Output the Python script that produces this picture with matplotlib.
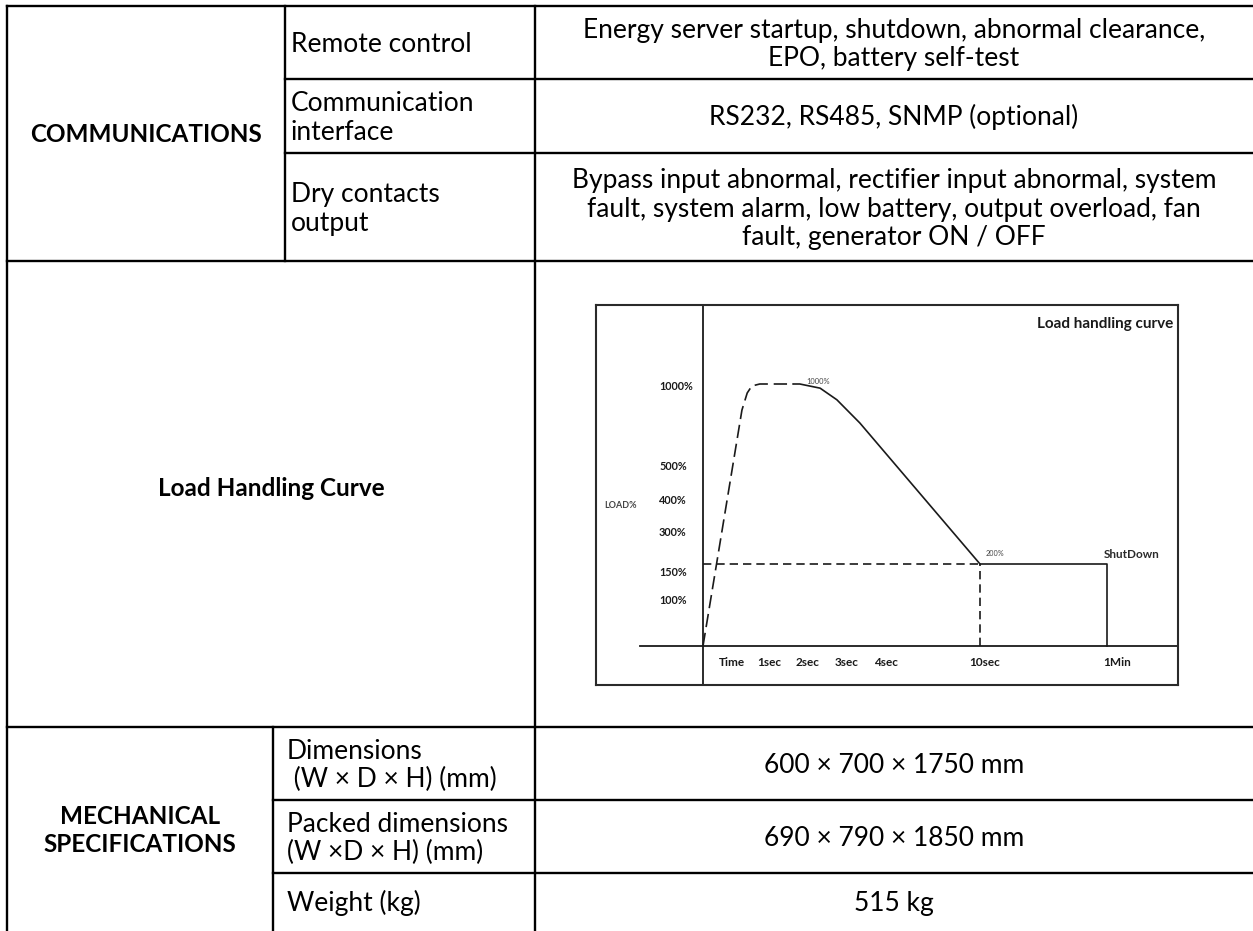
import numpy as np
import matplotlib.pyplot as plt
from matplotlib.transforms import blended_transform_factory

plt.rcParams['font.family'] = ['Lato', 'DejaVu Sans']

# --- table text ---
comm_group = ["COMMUNICATIONS"]
comm_items = [["Remote control"], ["Communication", "interface"], ["Dry contacts", "output"]]
comm_values = [
    ["Energy server startup, shutdown, abnormal clearance,", "EPO, battery self-test"],
    ["RS232, RS485, SNMP (optional)"],
    ["Bypass input abnormal, rectifier input abnormal, system",
     "fault, system alarm, low battery, output overload, fan",
     "fault, generator ON / OFF"],
]
curve_row_label = ["Load Handling Curve"]
mech_group = ["MECHANICAL", "SPECIFICATIONS"]
mech_items = [["Dimensions", " (W \u00d7 D \u00d7 H) (mm)"], ["Packed dimensions", "(W \u00d7D \u00d7 H) (mm)"], ["Weight (kg)"]]
mech_values = [["600 \u00d7 700 \u00d7 1750 mm"], ["690 \u00d7 790 \u00d7 1850 mm"], ["515 kg"]]

# --- load handling curve: time in seconds, load in % ---
rise_t = [0, 0.59, 0.67, 0.74, 0.86, 1.62]
rise_load = [0, 843, 946, 988, 1000, 1000]
fall_t = [1.62, 1.79, 2.31, 2.74, 3.33, 10]
fall_load = [1000, 1000, 975, 905, 765, 200]
hold_t = [10, 60, 60]
hold_load = [200, 200, 0]
overload_level = 200
overload_end = 10
load_ticks = [1000, 500, 400, 300, 150, 100]
time_labels = ["Time", "1sec", "2sec", "3sec", "4sec", "10sec", "1Min"]
time_label_at = [0.44, 1, 2, 3, 4, 10, 60]

# the drawing is not to scale, so both axes use a piecewise scale
time_knots = [0, 1, 2, 3, 4, 10, 60]
time_px = [0, 66, 105, 144, 183, 277, 404]
load_knots = [0, 100, 150, 200, 300, 400, 500, 1000]
load_px = [0, 46, 74, 82, 113, 146, 179, 262]


def piecewise(src, dst):
    src = np.asarray(src, float)
    dst = np.asarray(dst, float)
    lo = (dst[1] - dst[0]) / (src[1] - src[0])
    hi = (dst[-1] - dst[-2]) / (src[-1] - src[-2])

    def f(v):
        v = np.asarray(v, float)
        out = np.interp(v, src, dst)
        out = np.where(v < src[0], dst[0] + (v - src[0]) * lo, out)
        return np.where(v > src[-1], dst[-1] + (v - src[-1]) * hi, out)
    return f


W, H = 1253, 931
fig = plt.figure(figsize=(W / 100, H / 100), dpi=100)
base = fig.add_axes([0, 0, 1, 1])
base.set_xlim(0, W)
base.set_ylim(H, 0)
base.axis('off')

# --- table grid ---
x0, x1, x1b, x2, xr = 7, 285, 273, 535, W
rows = [6, 79, 153, 261, 727, 800, 873, 931]
lw = 1.7
for y in [rows[0], rows[3], rows[4]]:
    base.plot([x0, xr], [y, y], color='black', lw=lw)
for y in rows[1:3]:
    base.plot([x1, xr], [y, y], color='black', lw=lw)
for y in rows[5:7]:
    base.plot([x1b, xr], [y, y], color='black', lw=lw)
base.plot([x0, x0], [rows[0], H], color='black', lw=lw)
base.plot([x2, x2], [rows[0], H], color='black', lw=lw)
base.plot([x1, x1], [rows[0], rows[3]], color='black', lw=lw)
base.plot([x1b, x1b], [rows[4], H], color='black', lw=lw)

pitch = 28.5


def put_lines(x, yc, lines, ha, weight='normal', fs=19):
    n = len(lines)
    off = 0.36 * fs * 100 / 72
    for i, s in enumerate(lines):
        y = yc + (i - (n - 1) / 2) * pitch + off
        base.text(x, y, s, ha=ha, va='baseline', fontsize=fs, fontweight=weight, color='black')


xc_val = (x2 + xr) / 2
put_lines((x0 + x1) / 2, (rows[0] + rows[3]) / 2, comm_group, 'center', 'bold', 17.5)
for i in range(3):
    yc = (rows[i] + rows[i + 1]) / 2
    put_lines(x1 + 6, yc, comm_items[i], 'left')
    put_lines(xc_val, yc, comm_values[i], 'center')

put_lines((x0 + x2) / 2, 487, curve_row_label, 'center', 'bold', 17.5)

put_lines((x0 + x1b) / 2, (rows[4] + rows[7]) / 2, mech_group, 'center', 'bold', 17.5)
for i in range(3):
    yc = (rows[4 + i] + rows[5 + i]) / 2
    put_lines(x1b + 14, yc, mech_items[i], 'left')
    put_lines(xc_val, yc, mech_values[i], 'center')

# --- embedded load handling chart ---
ink = '#1a1a1a'
fl, fr, ft, fb = 596, 1178, 305, 685
ox, oy = 703, 646
cx = fig.add_axes([fl / W, (H - fb) / H, (fr - fl) / W, (fb - ft) / H])
t_fwd, t_inv = piecewise(time_knots, time_px), piecewise(time_px, time_knots)
l_fwd, l_inv = piecewise(load_knots, load_px), piecewise(load_px, load_knots)
cx.set_xscale('function', functions=(t_fwd, t_inv))
cx.set_yscale('function', functions=(l_fwd, l_inv))
cx.set_xlim(float(t_inv(fl - ox)), float(t_inv(fr - ox)))
cx.set_ylim(float(l_inv(oy - fb)), float(l_inv(oy - ft)))
cx.set_xticks([])
cx.set_xticks([], minor=True)
cx.set_yticks([])
cx.set_yticks([], minor=True)
for sp in cx.spines.values():
    sp.set_color('#2a2a2a')
    sp.set_linewidth(1.5)

cx.axvline(0, color=ink, lw=1.3)
cx.axhline(0, xmin=(640 - fl) / (fr - fl), color=ink, lw=1.3)

cx.plot(rise_t, rise_load, color=ink, lw=1.2, dashes=(8, 3.5))
cx.plot(fall_t, fall_load, color=ink, lw=1.2)
cx.plot(hold_t, hold_load, color=ink, lw=1.2)
cx.plot([0, overload_end], [overload_level, overload_level], color=ink, lw=1.2, dashes=(5, 3))
cx.plot([overload_end, overload_end], [0, overload_level], color=ink, lw=1.2, dashes=(5, 3))

tx = blended_transform_factory(cx.transData, cx.transAxes)
ty = blended_transform_factory(cx.transAxes, cx.transData)
label_y = (fb - 662) / (fb - ft)
shift = [0, 0, 0, 0, 0, 5, 10]
for lab, t, dx in zip(time_labels, time_label_at, shift):
    cx.annotate(lab, xy=(t, label_y), xycoords=tx, xytext=(dx, 0), textcoords='offset pixels',
                ha='center', va='center', fontsize=8.5, fontweight='bold', color=ink)
for v in load_ticks:
    cx.annotate(f"{v}%", xy=((659 - fl) / (fr - fl), v), xycoords=ty,
                xytext=(0, -3 if v == 1000 else 0), textcoords='offset pixels',
                ha='left', va='center', fontsize=7.8, fontweight='bold', color=ink)

cx.text((604 - fl) / (fr - fl), (fb - 505) / (fb - ft), "LOAD%", transform=cx.transAxes,
        ha='left', va='center', fontsize=6.5, fontweight='bold', color='#444444')
cx.text(0.875, 0.95, "Load handling curve", transform=cx.transAxes,
        ha='center', va='center', fontsize=11, fontweight='bold', color=ink)
cx.annotate("1000%", xy=(2.26, 1000), xytext=(0, 3), textcoords='offset pixels',
            ha='center', va='center', fontsize=5.4, color='#444444')
cx.annotate(f"{overload_level}%", xy=(overload_end, overload_level), xytext=(15, 10),
            textcoords='offset pixels', ha='center', va='center', fontsize=5.2, color='#444444')
cx.annotate("ShutDown", xy=(hold_t[1], hold_load[1]), xytext=(-3, 10), textcoords='offset pixels',
            ha='left', va='center', fontsize=8.5, fontweight='bold', color='#2a2a2a')

fig.savefig('out.png', dpi=100)
